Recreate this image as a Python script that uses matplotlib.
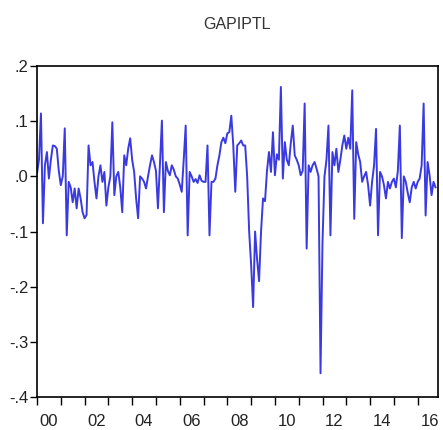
import numpy as np
import matplotlib
matplotlib.use("Agg")
import matplotlib.pyplot as plt
from matplotlib.ticker import FixedLocator, FixedFormatter

# monthly gap series, Jan 2000 onwards (one list per year)
y2000 = [0.005, 0.03, 0.114, -0.085, 0.02, 0.044, -0.004, 0.03, 0.056, 0.055, 0.05, 0.01]
y2001 = [-0.016, 0.0, 0.087, -0.107, -0.01, -0.02, -0.047, -0.022, -0.058, -0.022, -0.04, -0.065]
y2002 = [-0.076, -0.07, 0.056, 0.02, 0.026, -0.01, -0.04, 0.0, 0.02, -0.01, 0.008, -0.053]
y2003 = [-0.02, 0.0, 0.098, -0.034, 0.0, 0.008, -0.02, -0.065, 0.038, 0.02, 0.05, 0.069]
y2004 = [0.03, 0.008, -0.04, -0.076, 0.0, -0.004, -0.01, -0.022, 0.0, 0.02, 0.038, 0.026]
y2005 = [0.01, -0.058, 0.02, 0.101, -0.065, 0.026, 0.01, 0.002, 0.02, 0.012, 0.0, -0.004]
y2006 = [-0.015, -0.028, 0.03, 0.092, -0.107, 0.008, 0.0, -0.01, -0.005, -0.012, 0.002, -0.008]
y2007 = [-0.01, -0.01, 0.056, -0.107, -0.01, -0.01, -0.004, 0.02, 0.038, 0.062, 0.07, 0.06]
y2008 = [0.078, 0.08, 0.11, 0.056, -0.028, 0.056, 0.06, 0.065, 0.056, 0.056, 0.0, -0.1]
y2009 = [-0.16, -0.237, -0.1, -0.15, -0.19, -0.1, -0.04, -0.045, 0.01, 0.044, 0.008, 0.08]
y2010 = [0.002, 0.04, 0.03, 0.162, -0.004, 0.062, 0.03, 0.02, 0.06, 0.092, 0.038, 0.03]
y2011 = [0.02, 0.002, 0.01, 0.132, -0.131, 0.02, 0.008, 0.02, 0.026, 0.014, 0.0, -0.357]
y2012 = [-0.119, 0.0, 0.03, 0.092, -0.107, 0.044, 0.02, 0.05, 0.008, 0.03, 0.056, 0.074]
y2013 = [0.05, 0.07, 0.05, 0.156, -0.077, 0.062, 0.04, 0.026, -0.01, 0.0, 0.008, -0.016]
y2014 = [-0.053, -0.01, 0.02, 0.086, -0.107, 0.008, 0.0, -0.016, -0.04, -0.01, -0.022, -0.01]
y2015 = [-0.004, -0.02, 0.01, 0.092, -0.112, 0.0, -0.01, -0.03, -0.047, -0.02, -0.01, -0.022]
y2016 = [-0.01, -0.004, 0.02, 0.132, -0.071, 0.026, 0.002, -0.034, -0.01, -0.02]

series = (y2000 + y2001 + y2002 + y2003 + y2004 + y2005 + y2006 + y2007 + y2008
          + y2009 + y2010 + y2011 + y2012 + y2013 + y2014 + y2015 + y2016)
t = 2000 + np.arange(len(series)) / 12.0

y_ticks = [0.2, 0.1, 0.0, -0.1, -0.2, -0.3, -0.4]
y_labels = [".2", ".1", ".0", "-.1", "-.2", "-.3", "-.4"]
x_years = list(range(2000, 2018))
x_labels = ["00", "02", "04", "06", "08", "10", "12", "14", "16"]

plt.rcParams['font.family'] = ['Liberation Sans Narrow', 'Liberation Sans', 'DejaVu Sans']

fig = plt.figure(figsize=(4.43, 4.30), dpi=100)
ax = fig.add_axes([0.0835, 0.0767, 0.905, 0.7698])

ax.plot(t, series, color='#3a3ae0', linewidth=1.4)

ax.set_xlim(2000, 2016.85)
ax.set_ylim(-0.4, 0.2)

# year ticks on the bottom, labels centred under every other year
ax.xaxis.set_major_locator(FixedLocator(x_years))
ax.xaxis.set_major_formatter(FixedFormatter([""] * len(x_years)))
ax.xaxis.set_minor_locator(FixedLocator([2000.5 + 2 * i for i in range(len(x_labels))]))
ax.xaxis.set_minor_formatter(FixedFormatter(x_labels))
ax.tick_params(axis='x', which='major', direction='out', length=6, width=1, color='black')
ax.tick_params(axis='x', which='minor', length=0, pad=12, labelsize=12, labelcolor='#222222')

ax.set_yticks(y_ticks)
ax.set_yticklabels(y_labels)
ax.tick_params(axis='y', direction='out', length=5, width=1, pad=1, labelsize=12,
               labelcolor='#222222')

for s in ax.spines.values():
    s.set_linewidth(1.2)
    s.set_color('black')

ax.set_title("GAPIPTL", fontsize=11.5, pad=27, color='#333333',
             family=['Liberation Sans', 'DejaVu Sans'])

fig.savefig("out.png", dpi=100)
